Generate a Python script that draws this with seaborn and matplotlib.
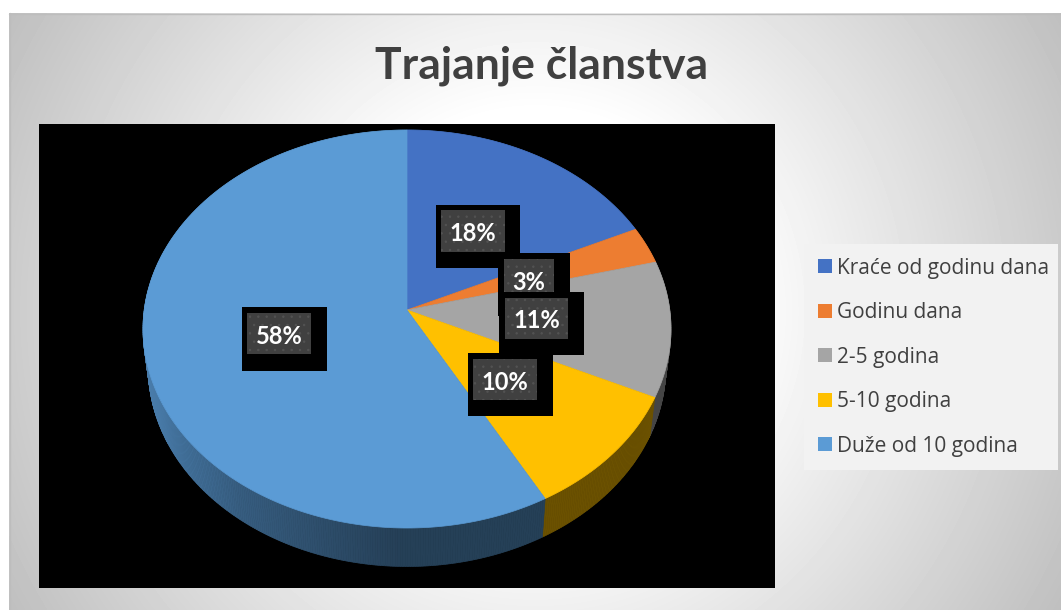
import numpy as np
import matplotlib
matplotlib.use("Agg")
import matplotlib.pyplot as plt
from matplotlib.patches import Patch, Rectangle
import seaborn as sns

title = "Trajanje članstva"
categories = ["Kraće od godinu dana", "Godinu dana", "2-5 godina", "5-10 godina", "Duže od 10 godina"]
shares = [18, 3, 11, 10, 58]
slice_colors = ["#4472C4", "#ED7D31", "#A5A5A5", "#FFC000", "#5B9BD5"]

# label boxes in pixels: black x0, x1, y0, y1 / text centre
label_boxes = [(436, 520, 205, 268), (498, 570, 253, 316), (499, 584, 292, 355), (468, 553, 353, 416), (242, 327, 307, 371)]
label_inner = [(441, 505, 210, 252), (504, 554, 259, 301), (505, 568, 298, 339), (473, 537, 359, 400), (247, 311, 313, 354)]
label_order = [0, 1, 2, 3, 4]

sns.set_theme(style="white")
plt.rcParams["font.family"] = ["Open Sans", "DejaVu Sans"]
plt.rcParams["hatch.linewidth"] = 0.5
palette = sns.color_palette(slice_colors)

W, H = 1061, 610
fig = plt.figure(figsize=(W / 100, H / 100), dpi=100, facecolor="white")
ax = fig.add_axes([0, 0, 1, 1])

# perspective of the tilted pie, fitted to the picture
CX, CY = 407, 310
KX, KY, PERSP = 262.8, 197.2, 0.0955
DEPTH, RIM = 38.5, 0.98


def top_face(theta):
    x, y = np.cos(theta), np.sin(theta)
    d = 1 + PERSP * y
    return CX + KX * x / d, CY - KY * y / d


def bottom_rim(theta):
    x, y = top_face(theta)
    return CX + (x - CX) * RIM, y + DEPTH


# pie gives the slice angles from the values
wedges, _ = ax.pie(shares, colors=palette, startangle=90, counterclock=False)
angles = [(w.theta1, w.theta2) for w in wedges]
for w in wedges:
    w.remove()
ax.set_aspect("auto")
ax.set_xlim(0, W)
ax.set_ylim(H, 0)
ax.axis("off")

# background: white strip, then radial grey gradient
yy, xx = np.mgrid[0:H, 0:W]
r = np.hypot(xx - 535, yy - 311)
bg = 255 - 0.158 * np.clip(r - 200, 0, None)
bg[:13, :] = 255
bg[:, :9] = 255
ax.imshow(bg, cmap="gray", vmin=0, vmax=255, extent=(0, W, H, 0), aspect="auto", zorder=0, interpolation="nearest")
ax.plot([9, W], [13.5, 13.5], color="#bdbdbd", lw=1, zorder=1)
ax.plot([9.5, 9.5], [13, H], color="#bdbdbd", lw=1, zorder=1)
ax.set_xlim(0, W)
ax.set_ylim(H, 0)

ax.add_patch(Rectangle((39, 124), 736, 464, color="black", lw=0, zorder=1))

# side wall, shaded per strip
for (t1, t2), col in zip(angles, palette):
    th = np.radians(np.linspace(t1, t2, max(int(abs(t2 - t1) * 2), 2)))
    for a, b in zip(th[:-1], th[1:]):
        xa, ya = top_face(a)
        xb, yb = top_face(b)
        xc, yc = bottom_rim(b)
        xd, yd = bottom_rim(a)
        if col == palette[4]:
            shade = np.interp((xa + xb) / 2, [148, 240, 400], [0.8, 0.6, 0.41])
        else:
            shade = 0.42
        c = tuple(v * shade for v in col)
        ax.fill([xa, xb, xc, xd], [ya, yb, yc, yd], color=c, lw=0.5, zorder=2)

# top face
for (t1, t2), col in zip(angles, palette):
    th = np.radians(np.linspace(t1, t2, 300))
    px, py = top_face(th)
    ax.fill(np.r_[CX, px], np.r_[CY, py], color=col, lw=0.5, zorder=3)

# data labels, 3% goes under 11%
for i in label_order:
    x0, x1, y0, y1 = label_boxes[i]
    ax.add_patch(Rectangle((x0, y0), x1 - x0, y1 - y0, facecolor="black", lw=0, zorder=4 + i))
    x0, x1, y0, y1 = label_inner[i]
    ax.add_patch(Rectangle((x0, y0), x1 - x0, y1 - y0, facecolor="#404040", edgecolor="#535353",
                           hatch="..", lw=0, zorder=4 + i))
    ax.text((x0 + x1) / 2, (y0 + y1) / 2 + 0.5, f"{shares[i]}%", color="white", fontsize=17, fontweight="bold",
            family="Lato", ha="center", va="center_baseline", zorder=4 + i)

ax.text(542, 79, title, color="#404040", fontsize=32, fontweight="bold", family="Lato", ha="center", va="baseline", zorder=4)

handles = [Patch(facecolor=c, edgecolor="none") for c in palette]
leg = ax.legend(handles, categories, bbox_to_anchor=(804 / W, 1 - 470 / H, 254 / W, 226 / H),
                bbox_transform=fig.transFigure, loc="upper left", mode="expand", borderaxespad=0,
                frameon=True, fancybox=False, facecolor="#F2F2F2", edgecolor="none", framealpha=1,
                fontsize=15, labelcolor="#404040", handlelength=0.67, handleheight=0.67, handletextpad=0.28,
                labelspacing=1.13, borderpad=0.65)
leg.set_zorder(20)

fig.savefig("out.png", dpi=100)
